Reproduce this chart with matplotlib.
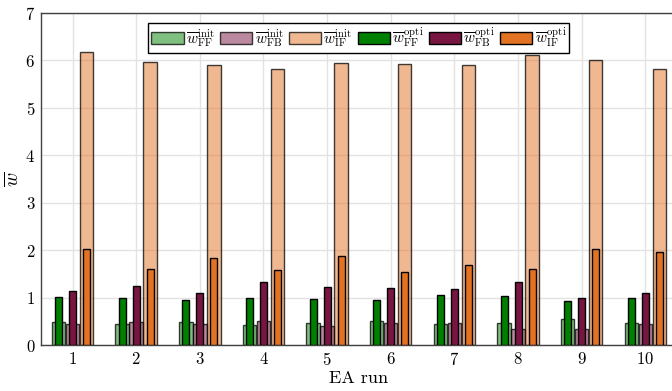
import numpy as np
import matplotlib.pyplot as plt

plt.rcParams['font.family'] = 'serif'
plt.rcParams['font.serif'] = ['cmr10', 'DejaVu Serif']
plt.rcParams['mathtext.fontset'] = 'cm'
plt.rcParams['axes.unicode_minus'] = False
plt.rcParams['axes.formatter.use_mathtext'] = True

runs = np.arange(1, 11)

# mean weights before optimisation
w_ff_init = [0.49, 0.44, 0.49, 0.43, 0.46, 0.50, 0.44, 0.47, 0.55, 0.46]
w_fb_init = [0.44, 0.48, 0.44, 0.51, 0.40, 0.46, 0.46, 0.34, 0.34, 0.44]
w_if_init = [6.17, 5.97, 5.90, 5.81, 5.94, 5.92, 5.91, 6.11, 6.01, 5.82]

# mean weights after optimisation
w_ff_opti = [1.01, 0.99, 0.95, 0.99, 0.96, 0.94, 1.06, 1.03, 0.93, 0.99]
w_fb_opti = [1.14, 1.25, 1.10, 1.32, 1.23, 1.20, 1.18, 1.33, 1.00, 1.09]
w_if_opti = [2.02, 1.61, 1.84, 1.58, 1.88, 1.55, 1.69, 1.61, 2.02, 1.96]

c_ff = '#008000'
c_fb = '#781541'
c_if = '#e37222'

fig = plt.figure(figsize=(6.72, 3.91), dpi=100)
ax = fig.add_axes([0.0606, 0.1176, 0.947, 0.849])

off = 0.22
w_init = 0.21
w_opti = 0.11
edge_init = (0, 0, 0, 0.75)

ax.bar(runs - off, w_ff_init, w_init, facecolor=(0, 0.502, 0, 0.5),
       edgecolor=edge_init, linewidth=1, label=r'$\overline{w}^{\rm init}_{\rm FF}$', zorder=2)
ax.bar(runs, w_fb_init, w_init, facecolor=(0.47, 0.082, 0.255, 0.5),
       edgecolor=edge_init, linewidth=1, label=r'$\overline{w}^{\rm init}_{\rm FB}$', zorder=2)
ax.bar(runs + off, w_if_init, w_init, facecolor=(0.89, 0.447, 0.133, 0.5),
       edgecolor=edge_init, linewidth=1, label=r'$\overline{w}^{\rm init}_{\rm IF}$', zorder=2)
ax.bar(runs - off, w_ff_opti, w_opti, color=c_ff, edgecolor='black', linewidth=1,
       label=r'$\overline{w}^{\rm opti}_{\rm FF}$', zorder=3)
ax.bar(runs, w_fb_opti, w_opti, color=c_fb, edgecolor='black', linewidth=1,
       label=r'$\overline{w}^{\rm opti}_{\rm FB}$', zorder=3)
ax.bar(runs + off, w_if_opti, w_opti, color=c_if, edgecolor='black', linewidth=1,
       label=r'$\overline{w}^{\rm opti}_{\rm IF}$', zorder=3)

ax.set_xlim(0.5, 10.5)
ax.set_ylim(0, 7)
ax.set_xticks(runs)
ax.set_yticks(range(8))
ax.tick_params(length=0, labelsize=12, pad=4)
ax.grid(True, color='#e3e3e3', linewidth=1, zorder=0)
ax.set_axisbelow(True)
for s in ax.spines.values():
    s.set_color('#404040')
    s.set_linewidth(1)

ax.set_xlabel('EA run', fontsize=13, labelpad=2)
ax.set_ylabel(r'$\overline{w}$', fontsize=14, labelpad=2)

leg = ax.legend(loc='upper center', bbox_to_anchor=(0.5, 0.985), ncol=6, fontsize=11,
                frameon=True, fancybox=False, edgecolor='black', framealpha=1,
                handlelength=2.1, handleheight=0.85, handletextpad=0.15, columnspacing=0.35,
                borderpad=0.2, borderaxespad=0.3)
leg.get_frame().set_linewidth(1)

fig.savefig('out.png', dpi=100)
